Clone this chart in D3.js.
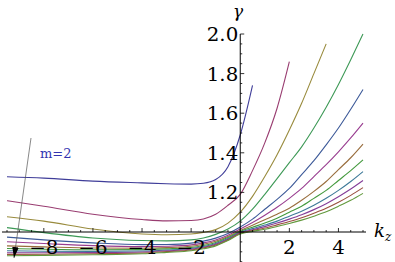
<!DOCTYPE html>
<html>
<head>
<meta charset="utf-8">
<script src="https://cdn.jsdelivr.net/npm/d3@7"></script>
<style>
  body { margin: 0; background: #fff; }
  .serif { font-family: "DejaVu Serif"; }
</style>
</head>
<body>
<div id="chart"></div>
<script>
// kz sample points shared by all curves
var kz = [-9.5, -8, -6, -4, -3, -2, -1.5, -1, -0.5, 0, 0.5, 1, 1.5, 2, 2.5, 3, 3.5, 4, 4.5, 5];

// gamma for each m (null = curve stops)
var g1  = [1.279, 1.272, 1.257, 1.248, 1.244, 1.242, 1.246, 1.265, 1.33, 1.49, 1.74, null, null, null, null, null, null, null, null, null];
var g2  = [1.158, 1.13, 1.09, 1.063, 1.056, 1.058, 1.066, 1.09, 1.135, 1.19, 1.31, 1.45, 1.625, 1.86, null, null, null, null, null, null];
var g3  = [1.077, 1.055, 1.015, 0.99, 0.986, 0.99, 0.998, 1.012, 1.045, 1.10, 1.18, 1.28, 1.39, 1.515, 1.65, 1.80, 1.95, null, null, null];
var g4  = [1.022, 0.997, 0.970, 0.957, 0.955, 0.96, 0.97, 0.988, 1.015, 1.055, 1.115, 1.19, 1.27, 1.35, 1.43, 1.525, 1.63, 1.745, 1.87, 2.0];
var g5  = [0.974, 0.960, 0.945, 0.936, 0.937, 0.944, 0.954, 0.969, 0.992, 1.025, 1.065, 1.115, 1.165, 1.22, 1.29, 1.36, 1.44, 1.525, 1.62, 1.72];
var g6  = [0.951, 0.942, 0.931, 0.926, 0.928, 0.935, 0.945, 0.96, 0.984, 1.015, 1.048, 1.085, 1.125, 1.17, 1.22, 1.28, 1.34, 1.405, 1.475, 1.55];
var g7  = [0.930, 0.925, 0.919, 0.918, 0.921, 0.928, 0.938, 0.953, 0.977, 1.008, 1.034, 1.062, 1.09, 1.12, 1.16, 1.205, 1.255, 1.315, 1.375, 1.444];
var g8  = [0.917, 0.913, 0.910, 0.911, 0.915, 0.922, 0.932, 0.947, 0.972, 1.003, 1.024, 1.045, 1.07, 1.10, 1.13, 1.17, 1.21, 1.26, 1.31, 1.364];
var g9  = [0.905, 0.903, 0.902, 0.904, 0.909, 0.917, 0.927, 0.942, 0.967, 0.999, 1.017, 1.035, 1.055, 1.08, 1.105, 1.135, 1.17, 1.21, 1.255, 1.305];
var g10 = [0.895, 0.895, 0.896, 0.899, 0.905, 0.913, 0.923, 0.938, 0.963, 0.996, 1.011, 1.027, 1.045, 1.065, 1.087, 1.113, 1.143, 1.178, 1.217, 1.26];
var g11 = [0.887, 0.888, 0.890, 0.894, 0.901, 0.909, 0.919, 0.934, 0.96, 0.993, 1.007, 1.02, 1.036, 1.053, 1.072, 1.095, 1.12, 1.15, 1.185, 1.224];
var g12 = [0.880, 0.882, 0.885, 0.890, 0.897, 0.905, 0.915, 0.93, 0.957, 0.99, 1.003, 1.014, 1.028, 1.043, 1.06, 1.08, 1.102, 1.13, 1.16, 1.195];
var series = [g1, g2, g3, g4, g5, g6, g7, g8, g9, g10, g11, g12];

// tick marks
var xMajor = [-8, -6, -4, -2, 2, 4];
var yMajor = [1.2, 1.4, 1.6, 1.8, 2.0];

// default Mathematica plot colours
var colors = ["#3f3d99", "#993d71", "#998b3d", "#3d9956", "#3d5a99", "#993d90",
              "#996d3d", "#43993d", "#3d7999", "#843d99", "#994e3d", "#62993d"];

var W = 395, H = 262;
var svg = d3.select("#chart").append("svg")
	.attr("width", W)
	.attr("height", H);

var x = d3.scaleLinear().domain([-9.5, 5]).range([7, 363]);
var y = d3.scaleLinear().domain([1, 2]).range([232, 34]);

var line = d3.line()
	.defined(function(d) { return d[1] !== null; })
	.x(function(d) { return x(d[0]); })
	.y(function(d) { return y(d[1]); })
	.curve(d3.curveMonotoneX);

// curves
svg.selectAll("path.curve")
	.data(series)
	.enter()
	.append("path")
	.attr("class", "curve")
	.attr("d", function(s) {
		return line(kz.map(function(k, i) { return [k, s[i]]; }));
	})
	.attr("fill", "none")
	.attr("stroke", function(d, i) { return colors[i]; })
	.attr("stroke-width", 1.1);

// axes
var axes = svg.append("g").attr("stroke", "#000");
axes.append("line")
	.attr("x1", 2).attr("x2", 366)
	.attr("y1", y(1)).attr("y2", y(1))
	.attr("stroke-width", 1);
axes.append("line")
	.attr("x1", x(0)).attr("x2", x(0))
	.attr("y1", y(2)).attr("y2", H)
	.attr("stroke-width", 1);

// x ticks (minor every 0.5)
var xMinor = d3.range(-9.5, 5.01, 0.5);
axes.selectAll("line.xt")
	.data(xMinor)
	.enter()
	.append("line")
	.attr("x1", function(d) { return x(d); })
	.attr("x2", function(d) { return x(d); })
	.attr("y1", y(1))
	.attr("y2", function(d) { return y(1) - (d % 2 === 0 ? 4 : 2); })
	.attr("stroke-width", 0.8);

// y ticks (minor every 0.05)
var yMinor = d3.range(0.85, 2.001, 0.05);
axes.selectAll("line.yt")
	.data(yMinor)
	.enter()
	.append("line")
	.attr("y1", function(d) { return y(d); })
	.attr("y2", function(d) { return y(d); })
	.attr("x1", x(0))
	.attr("x2", function(d) {
		var major = Math.abs(d * 5 - Math.round(d * 5)) < 1e-6;
		return x(0) + (major ? 4 : 2);
	})
	.attr("stroke-width", 0.8);

// tick labels
svg.selectAll("text.xl")
	.data(xMajor)
	.enter()
	.append("text")
	.attr("class", "serif")
	.attr("text-anchor", "middle")
	.attr("transform", function(d) { return "translate(" + x(d) + ",254) scale(1.1,1)"; })
	.style("font-size", "18px")
	.text(function(d) { return d < 0 ? "\u2212" + Math.abs(d) : d; });

svg.selectAll("text.yl")
	.data(yMajor)
	.enter()
	.append("text")
	.attr("class", "serif")
	.attr("text-anchor", "end")
	.attr("transform", function(d) { return "translate(" + (x(0) - 2) + "," + (y(d) + 7) + ") scale(1.1,1)"; })
	.style("font-size", "18px")
	.text(function(d) { return d.toFixed(1); });

// axis titles
svg.append("text")
	.attr("class", "serif")
	.attr("x", 233).attr("y", 17)
	.style("font-size", "17px")
	.style("font-style", "italic")
	.text("\u03b3");
var kzLabel = svg.append("text")
	.attr("class", "serif")
	.attr("x", 374).attr("y", 237)
	.style("font-size", "18px")
	.style("font-style", "italic")
	.text("k");
kzLabel.append("tspan")
	.attr("dy", 4)
	.style("font-size", "12px")
	.text("z");

// arrow marking increasing m
svg.append("defs").append("marker")
	.attr("id", "head")
	.attr("viewBox", "0 0 10 10")
	.attr("refX", 10).attr("refY", 5)
	.attr("markerWidth", 11).attr("markerHeight", 11)
	.attr("markerUnits", "userSpaceOnUse")
	.attr("orient", "auto")
	.append("path")
	.attr("d", "M0,2L10,5L0,8Z")
	.attr("fill", "#000");
svg.append("line")
	.attr("x1", 31).attr("y1", 138)
	.attr("x2", 14).attr("y2", 258)
	.attr("stroke", "#555")
	.attr("stroke-width", 0.7)
	.attr("marker-end", "url(#head)");

svg.append("text")
	.attr("class", "serif")
	.attr("x", 40).attr("y", 158)
	.style("font-size", "13px")
	.style("fill", "#3333b0")
	.text("m=2");
</script>
</body>
</html>
